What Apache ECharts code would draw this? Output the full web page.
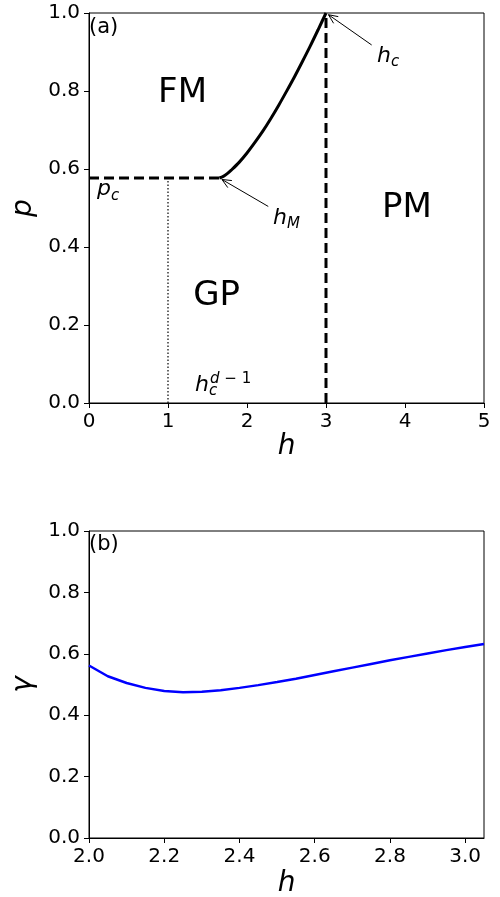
<!DOCTYPE html>
<html>
<head>
<meta charset="utf-8">
<script src="https://cdn.jsdelivr.net/npm/echarts@6/dist/echarts.min.js"></script>
<style>
  html, body { margin: 0; padding: 0; background: #fff; }
  #main { width: 500px; height: 897px; }
</style>
</head>
<body>
<div id="main"></div>
<script>
// (a) 相图数据
var pc = 0.577;
var hM = 1.65;
var hc = 3.0;
var hcd1 = 1.0;
var boundaryH = [1.65, 1.70, 1.75, 1.80, 1.90, 2.00, 2.10, 2.20, 2.30, 2.40, 2.50, 2.60, 2.70, 2.80, 2.90, 3.00];
var boundaryP = [0.577, 0.581, 0.588, 0.597, 0.617, 0.641, 0.668, 0.697, 0.729, 0.763, 0.799, 0.836, 0.875, 0.915, 0.957, 1.000];

// 区域标注
var regionText = ['FM', 'GP', 'PM'];
var regionH = [1.184, 1.616, 4.025];
var regionP = [0.794, 0.275, 0.50];

// 公式标注: 底字、下标、上标
var mathBase = ['p', 'h', 'h', 'h'];
var mathSub = ['c', 'M', 'c', 'c'];
var mathSup = ['', '', '', 'd − 1'];
var mathH = [0.101, 2.329, 3.646, 1.342];
var mathP = [0.547, 0.473, 0.889, 0.045];

// 箭头: 尖端和尾部
var arrowTipH = [3.0, 1.65];
var arrowTipP = [1.0, 0.577];
var arrowTailH = [3.578, 2.269];
var arrowTailP = [0.918, 0.504];

// (b) gamma 曲线
var gammaH = [2.00, 2.05, 2.10, 2.15, 2.20, 2.25, 2.30, 2.35, 2.40, 2.45, 2.50,
              2.55, 2.60, 2.65, 2.70, 2.75, 2.80, 2.85, 2.90, 2.95, 3.00, 3.05];
var gammaV = [0.562, 0.527, 0.505, 0.489, 0.479, 0.475, 0.476, 0.481, 0.489, 0.498, 0.508,
              0.519, 0.531, 0.543, 0.555, 0.567, 0.579, 0.590, 0.601, 0.612, 0.622, 0.632];
var gammaTicks = [2.0, 2.2, 2.4, 2.6, 2.8, 3.0];

var FONT = 'DejaVu Sans';

function zip(a, b) {
    return a.map(function (v, i) { return [v, b[i]]; });
}

function axisBase(extra) {
    var o = {
        type: 'value',
        axisLine: { show: true, lineStyle: { color: '#000', width: 1 } },
        axisTick: { show: true, inside: false, length: 5, lineStyle: { color: '#000', width: 1 } },
        axisLabel: { color: '#000', fontSize: 20, fontFamily: FONT },
        splitLine: { show: false },
        nameLocation: 'middle',
        nameTextStyle: { color: '#000', fontSize: 28, fontStyle: 'italic', fontFamily: FONT }
    };
    for (var k in extra) o[k] = extra[k];
    return o;
}

function renderArrow(params, api) {
    var tip = api.coord([api.value(0), api.value(1)]);
    var tail = api.coord([api.value(2), api.value(3)]);
    var dx = tip[0] - tail[0], dy = tip[1] - tail[1];
    var len = Math.sqrt(dx * dx + dy * dy);
    var ux = dx / len, uy = dy / len;
    var end = [tip[0] - ux * 3, tip[1] - uy * 3];
    var head = 10, ang = 0.42;
    function wing(a) {
        var c = Math.cos(a), s = Math.sin(a);
        return [end[0] - head * (ux * c - uy * s), end[1] - head * (uy * c + ux * s)];
    }
    var st = { stroke: '#000', lineWidth: 1, fill: null };
    return {
        type: 'group',
        children: [
            { type: 'line', shape: { x1: tail[0], y1: tail[1], x2: end[0], y2: end[1] }, style: st },
            { type: 'polyline', shape: { points: [wing(ang), end, wing(-ang)] }, style: st }
        ]
    };
}

function renderRegion(params, api) {
    var pt = api.coord([api.value(0), api.value(1)]);
    return {
        type: 'text',
        style: { x: pt[0], y: pt[1], text: regionText[params.dataIndex], fill: '#000',
                 align: 'center', verticalAlign: 'middle', font: '34px "DejaVu Sans"' }
    };
}

function renderMath(params, api) {
    var i = params.dataIndex;
    var pt = api.coord([api.value(0), api.value(1)]);
    var children = [{
        type: 'text',
        style: { x: pt[0], y: pt[1], text: mathBase[i], fill: '#000', align: 'left', verticalAlign: 'middle',
                 font: 'italic 22px "DejaVu Sans"' }
    }, {
        type: 'text',
        style: { x: pt[0] + 14, y: pt[1] + 6, text: mathSub[i], fill: '#000', align: 'left', verticalAlign: 'middle',
                 font: 'italic 15px "DejaVu Sans"' }
    }];
    if (mathSup[i]) {
        children.push({
            type: 'text',
            style: { x: pt[0] + 15, y: pt[1] - 6, text: '{i|d}{n| − 1}', fill: '#000', align: 'left', verticalAlign: 'middle',
                     rich: {
                         i: { fontStyle: 'italic', fontSize: 15, fontFamily: FONT, fill: '#000' },
                         n: { fontSize: 15, fontFamily: FONT, fill: '#000' }
                     } }
        });
    }
    return { type: 'group', children: children };
}

var myChart = echarts.init(document.getElementById('main'));

var option = {
    backgroundColor: '#fff',
    animation: false,
    title: [
        { text: '(a)', left: 89, top: 17, padding: 0,
          textStyle: { fontSize: 21, fontWeight: 'normal', color: '#000', fontFamily: FONT } },
        { text: '(b)', left: 89, top: 534, padding: 0,
          textStyle: { fontSize: 21, fontWeight: 'normal', color: '#000', fontFamily: FONT } }
    ],
    grid: [
        { left: 89, top: 13, width: 395, height: 390, show: true, borderColor: '#000', borderWidth: 1,
          backgroundColor: 'transparent', containLabel: false, outerBoundsMode: 'none' },
        { left: 89, top: 531, width: 395, height: 307, show: true, borderColor: '#000', borderWidth: 1,
          backgroundColor: 'transparent', containLabel: false, outerBoundsMode: 'none' }
    ],
    xAxis: [
        axisBase({ gridIndex: 0, min: 0, max: 5, interval: 1, name: 'h', nameGap: 30,
                   axisLabel: { color: '#000', fontSize: 20, fontFamily: FONT, margin: 9 } }),
        axisBase({ gridIndex: 1, min: 2.0, max: 3.05, name: 'h', nameGap: 32,
                   axisTick: { show: true, length: 5, lineStyle: { color: '#000' }, customValues: gammaTicks },
                   axisLabel: { color: '#000', fontSize: 20, fontFamily: FONT, margin: 9, customValues: gammaTicks,
                                formatter: function (v) { return v.toFixed(1); } } })
    ],
    yAxis: [
        axisBase({ gridIndex: 0, min: 0, max: 1, interval: 0.2, name: 'p', nameGap: 50,
                   axisLabel: { color: '#000', fontSize: 20, fontFamily: FONT, margin: 9,
                                formatter: function (v) { return v.toFixed(1); } } }),
        axisBase({ gridIndex: 1, min: 0, max: 1, interval: 0.2, name: 'γ', nameGap: 50,
                   axisLabel: { color: '#000', fontSize: 20, fontFamily: FONT, margin: 9,
                                formatter: function (v) { return v.toFixed(1); } } })
    ],
    series: [
        {
            name: 'pc', type: 'line', xAxisIndex: 0, yAxisIndex: 0, symbol: 'none', silent: true,
            data: [[0, pc], [hM, pc]],
            lineStyle: { color: '#000', width: 3, type: [10, 5] }
        },
        {
            name: 'hc', type: 'line', xAxisIndex: 0, yAxisIndex: 0, symbol: 'none', silent: true,
            data: [[hc, 0], [hc, 1]],
            lineStyle: { color: '#000', width: 3, type: [10, 5] }
        },
        {
            name: 'hcd1', type: 'line', xAxisIndex: 0, yAxisIndex: 0, symbol: 'none', silent: true,
            data: [[hcd1, 0], [hcd1, pc]],
            lineStyle: { color: '#000', width: 1.2, type: [1.5, 2] }
        },
        {
            name: 'boundary', type: 'line', xAxisIndex: 0, yAxisIndex: 0, symbol: 'none', silent: true,
            smooth: 0.3,
            data: zip(boundaryH, boundaryP),
            lineStyle: { color: '#000', width: 3 }
        },
        {
            name: 'regions', type: 'custom', xAxisIndex: 0, yAxisIndex: 0, silent: true, clip: false,
            renderItem: renderRegion,
            encode: { x: 0, y: 1 },
            data: zip(regionH, regionP)
        },
        {
            name: 'arrows', type: 'custom', xAxisIndex: 0, yAxisIndex: 0, silent: true, clip: false,
            renderItem: renderArrow,
            encode: { x: [0, 2], y: [1, 3] },
            data: arrowTipH.map(function (v, i) { return [v, arrowTipP[i], arrowTailH[i], arrowTailP[i]]; })
        },
        {
            name: 'math', type: 'custom', xAxisIndex: 0, yAxisIndex: 0, silent: true, clip: false,
            renderItem: renderMath,
            encode: { x: 0, y: 1 },
            data: zip(mathH, mathP)
        },
        {
            name: 'gamma', type: 'line', xAxisIndex: 1, yAxisIndex: 1, symbol: 'none', silent: true,
            data: zip(gammaH, gammaV),
            lineStyle: { color: '#0000ff', width: 2.5 }
        }
    ]
};

myChart.setOption(option);
</script>
</body>
</html>
